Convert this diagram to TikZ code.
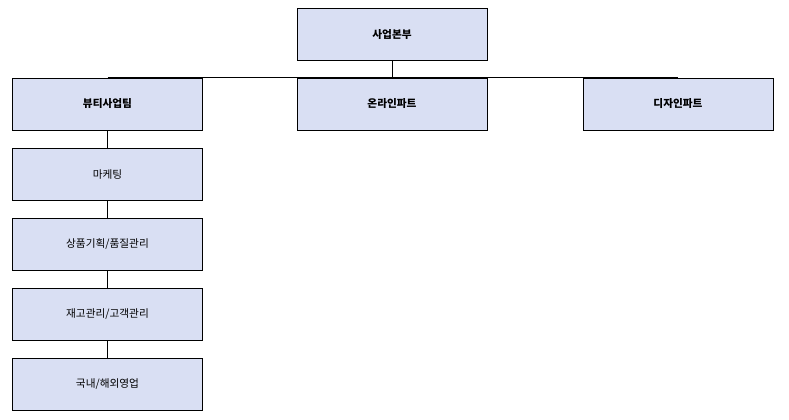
\documentclass[tikz,border=0pt]{standalone}
\usepackage{fontspec}
\newfontfamily\cjk{Noto Sans CJK KR}
\usetikzlibrary{positioning}
\definecolor{boxfill}{HTML}{D9DFF3}
\tikzset{unit/.style={draw=black, fill=boxfill, minimum width=142.5pt, minimum height=39pt, inner sep=0pt, font=\cjk\fontsize{8}{10}\selectfont},
  head/.style={unit, font=\cjk\bfseries\fontsize{8}{10}\selectfont}}
\begin{document}
\begin{tikzpicture}[x=0.75pt,y=-0.75pt]
\useasboundingbox (0,0) rectangle (789,419);
\node[head] (top) at (392,34.5) {사업본부};
\node[head] (beauty) at (107.5,104) {뷰티사업팀};
\node[head] (online) at (392,104) {온라인파트};
\node[head] (design) at (678,104) {디자인파트};
\node[unit] (mkt) at (107.5,174) {마케팅};
\node[unit] (plan) at (107.5,244) {상품기획/품질관리};
\node[unit] (stock) at (107.5,314) {재고관리/고객관리};
\node[unit] (sales) at (107.5,384) {국내/해외영업};
%%%%
\draw (top.south) -- (online.north);
\draw (beauty.north) -- (design.north);
\draw (beauty) -- (mkt);
\draw (mkt) -- (plan);
\draw (plan) -- (stock);
\draw (stock) -- (sales);
\end{tikzpicture}
\end{document}
